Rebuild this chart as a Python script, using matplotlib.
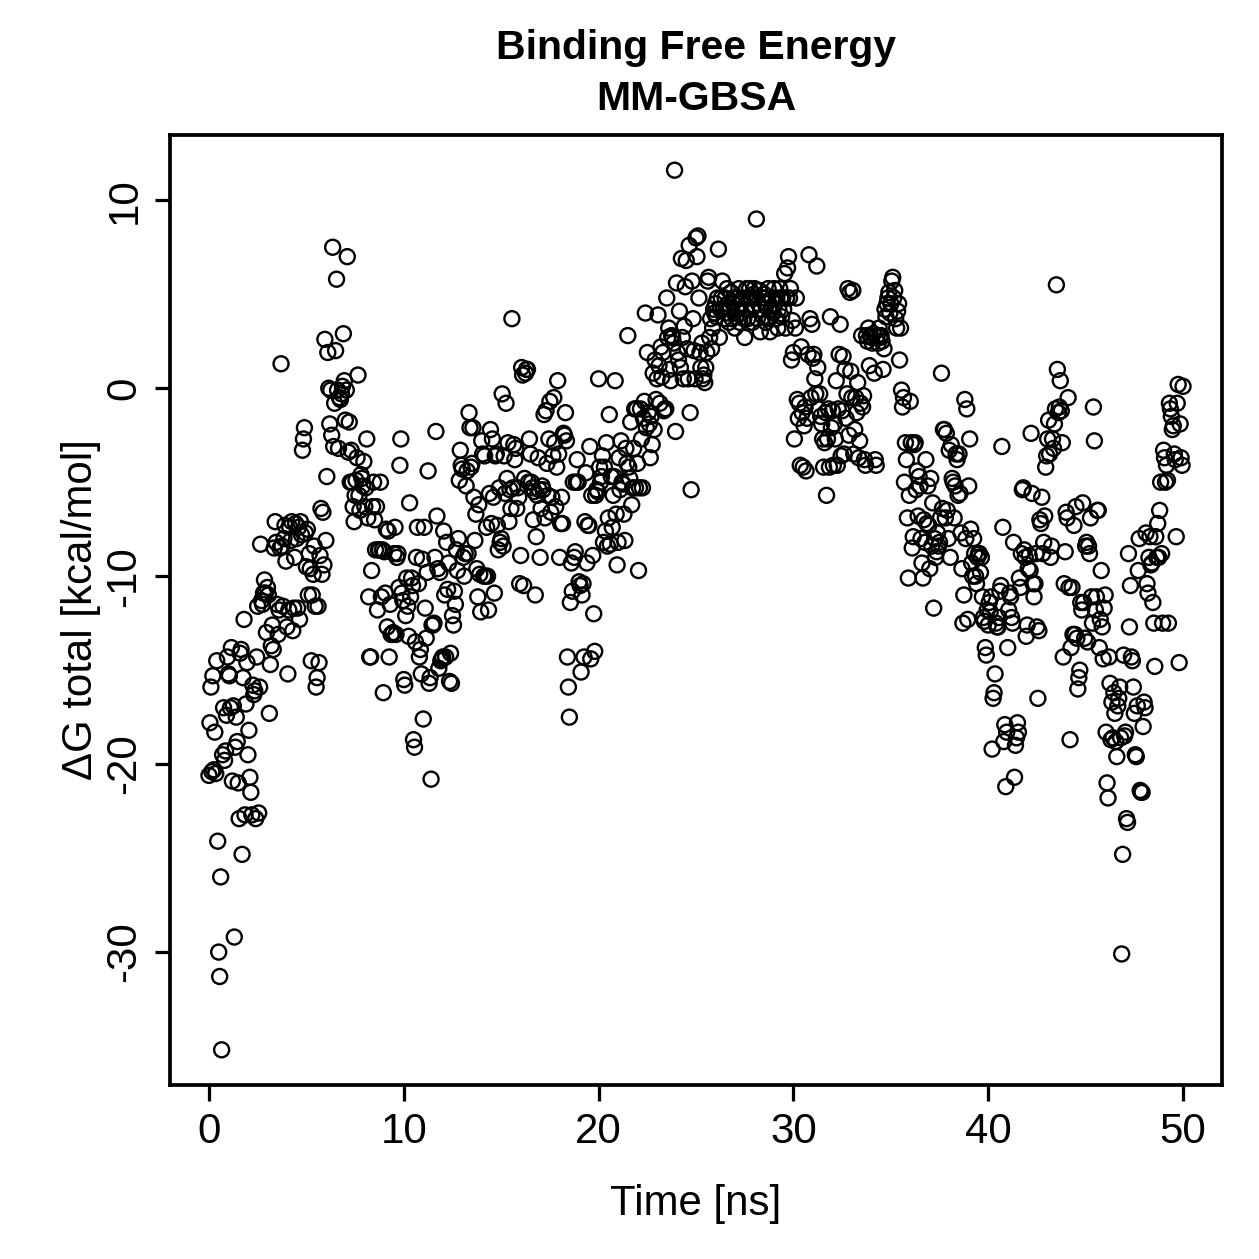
import numpy as np
import matplotlib
matplotlib.use("Agg")
import matplotlib.pyplot as plt

title_text = "Binding Free Energy\nMM-GBSA"
x_label = "Time [ns]"
y_label = "\u0394G total [kcal/mol]"
x_ticks = [0, 10, 20, 30, 40, 50]
y_ticks = [-30, -20, -10, 0, 10]
frame_step_ns = 0.05

# dG total per frame (kcal/mol), frames every 0.05 ns
dG = [
    -20.6, -17.8, -15.9, -20.4, -15.3, -20.3, -18.3, -20.5, -14.5, -24.1,
    -30.0, -31.3, -26.0, -35.2, -19.5, -17.0, -19.8, -19.3, -17.4, -14.3,
    -15.2, -15.3, -17.0, -13.8, -20.9, -16.9, -29.2, -19.1, -17.5, -18.8,
    -21.0, -22.9, -14.1, -13.9, -24.8, -15.4, -12.3, -22.7, -16.8, -14.6,
    -19.5, -18.2, -20.7, -21.5, -22.7, -15.8, -16.3, -16.1, -22.9, -14.3,
    -11.6, -22.6, -15.9, -8.3, -11.3, -11.5, -10.9, -10.2, -10.9, -13.0,
    -10.6, -11.0, -17.3, -14.7, -13.7, -12.6, -13.9, -8.5, -7.1, -8.2,
    -11.5, -13.1, -11.8, -8.5, 1.3, -8.4, -11.6, -8.0, -7.3, -9.2,
    -12.7, -15.2, -11.8, -7.4, -8.1, -7.1, -12.9, -11.7, -9.0, -7.2,
    -8.0, -11.7, -7.4, -12.3, -7.1, -7.8, -3.3, -2.7, -2.1, -7.7,
    -9.5, -7.5, -11.0, -8.8,
    -9.6, -14.5, -11.0, -9.9, -8.4, -11.6, -15.9, -15.4, -11.6, -14.6,
    -8.9, -6.4, -9.9, -6.6, -9.4, 2.6, -8.1, -4.7, 1.9, 0.0,
    -1.9, -0.1, -2.5, 7.5, -3.1, -0.8, 2.0, 5.8, -0.1, -3.2,
    -0.5, -0.6, -0.3, 0.1, 2.9, 0.4, -1.7, -0.1, 7.0, -3.4,
    -1.8, -5.0, -3.3, -5.0, -6.3, -7.1, -5.7, -4.9, -3.7, 0.7,
    -5.7, -6.5, -4.6, -4.8, -5.2, -3.9, -6.3, -5.3, -2.7, -6.9,
    -11.1, -14.3, -14.3, -9.7, -6.3, -5.0, -7.0, -8.6, -6.3, -11.8,
    -8.6, -8.6, -5.0, -11.1, -8.6, -16.2, -8.7, -10.9, -7.5, -12.7,
    -7.6, -14.3, -11.5, -13.1, -13.1, -13.0, -8.8, -7.4, -13.1, -9.0,
    -8.8, -10.6, -4.1, -2.7, -10.9, -11.3, -15.5, -15.8, -12.1, -10.1,
    -11.6, -13.2, -6.1, -11.1, -10.1, -10.5, -18.7, -19.1, -13.5, -9.0,
    -7.4, -10.4, -14.3, -13.9, -15.2, -9.1, -17.6, -7.4, -11.7, -13.3,
    -9.8, -4.4, -15.7, -15.4, -20.8, -12.6, -12.6, -12.5, -9.0, -2.3,
    -6.8, -9.6, -14.9, -9.8, -14.5, -14.4, -14.3, -7.6, -11.0, -14.3,
    -8.2, -10.7, -9.3, -15.6, -14.1, -15.7, -12.1, -12.6, -10.8, -11.5,
    -8.6, -9.7, -8.0, -4.9, -3.3, -4.1, -4.3, -9.0, -10.0, -8.8,
    -5.2, -4.4, -8.8, -1.3, -2.1, -4.2, -4.0, -2.1, -5.8, -8.1,
    -6.7, -9.6, -11.1, -6.2, -9.9, -11.9, -2.8, -3.5, -10.0, -3.6,
    -10.0, -7.4, -10.0, -11.8, -5.6, -2.2, -7.2, -2.7, -5.8, -10.9,
    -3.6, -3.5, -7.3, -8.6, -5.3, -8.2, -8.0, -0.3, -8.4, -3.6,
    -5.6, -0.8, -4.8, -2.9, -7.1, -5.4, -6.4, 3.7, -5.3, -3.0,
    -3.8, -3.2, -6.4, -5.3, -5.8, -10.4, -8.9, 1.1, 0.7, -10.5,
    -4.8, 0.8, 1.0, 1.0, -5.0, -2.7, -3.5, -5.0, -5.3, -7.0,
    -5.5, -11.0, -7.9, -5.7, -3.7, -5.4, -9.0, -6.4, -5.2, -5.4,
    -1.4, -6.9, -1.2, -4.0, -5.7, -2.7, -0.7, -6.6, -5.8, -3.6,
    -0.5, -2.9, -6.3, -4.2, 0.4, -3.5, -9.0, -7.2, -5.8, -7.2,
    -2.4, -2.5, -1.3, -2.8, -14.3, -15.9, -17.5, -11.4, -9.3, -10.8,
    -5.0, -9.0, -8.7, -5.0, -3.8, -5.0, -10.3, -10.5, -15.1, -11.0,
    -10.4, -14.3, -7.1, -4.5, -9.3, -7.3, -7.3, -3.1, -14.4, -5.7,
    -8.9, -12.0, -14.0, -5.7, -5.4, -5.5, 0.5, -4.2, -5.0, -4.7,
    -3.6, -8.2, -4.2, -7.6, -2.9, -8.4, -6.9, -1.4, -8.3, -4.7,
    -7.4, -5.7, -4.7, 0.4, -6.7, -9.4, -8.2, -3.7, -5.4, -2.8,
    -5.0, -5.1, -6.7, -8.1, -3.2, -4.0, 2.8, -4.2, -4.8, -1.8,
    -6.2, -5.3, -3.2, -1.1, -5.3, -1.1, -4.0, -9.7, -5.3, -1.1,
    -2.7, -5.3, -1.6, -0.7, 4.0, -2.1, 1.9, -1.3, -1.9, -3.7,
    -1.5, -3.0, 0.8, -2.2, 1.5, -0.6,
    0.5, 3.9, 1.2, -0.8, 2.2, 0.6, 1.9, -1.2, -1.1, -1.1,
    4.8, 2.7, 3.2, 1.0, 0.4, 2.8, 2.7, 2.4, 11.6, -2.3,
    5.6, 1.9, 1.5, 4.1, 1.1, 6.9, 2.7, 0.5, 3.3, 5.4,
    6.8, 2.1, 0.5, 7.6, -1.3, -5.4, 5.7, 3.7, 2.0, 0.5,
    8.0, 7.0, 8.1, 4.8, 1.9, 1.1, 2.4, 0.5, 0.7, 0.3,
    1.1, 1.9, 5.7, 5.9, 2.7, 3.7, 2.1, 3.2, 4.2, 4.0,
    4.5, 3.8, 4.8, 7.4, 2.7, 4.2, 4.8, 5.7, 4.2, 3.7,
    4.8, 4.0, 5.3, 4.5, 3.5, 4.2, 5.1, 3.7, 4.5, 4.8,
    3.2, 3.8, 4.8, 4.2, 5.3, 3.5, 4.5, 4.0, 4.8, 3.7,
    2.7, 4.2, 5.3, 3.7, 4.8, 5.3, 4.8, 4.2, 3.5, 5.0,
    5.3, 4.8, 9.0, 3.7, 4.5, 5.2, 3.0, 4.2, 4.8, 3.8,
    5.0, 4.8, 3.5, 4.5, 5.3, 3.7, 3.0, 4.2, 4.8, 4.0,
    5.3, 4.5, 3.7, 4.8, 3.2, 4.2, 5.3, 4.8, 3.8, 4.8,
    4.2, 6.1, 3.2, 4.8, 6.4, 7.0, 4.8, 5.3, 1.5, 3.6,
    1.9, -2.7, 3.2, 4.8, -0.6, -1.6, -0.8, -4.1, 2.2, -1.3,
    -4.2, -2.0, -1.0, -4.4, -1.6, 1.8, 7.1, 3.7, -0.5, 3.4,
    1.6, 1.8, 0.5, -0.3, 6.5, 1.1, -1.1, -0.3, -1.5, -1.9,
    -2.7, -4.2, -2.9, -1.3, -5.7, -2.7, -1.1, -4.2, 3.8, -2.1,
    -1.2, -4.1, -1.9, -2.7, 0.4, -4.1, -1.1, 1.8, 3.4, -3.6,
    -1.2, 1.7, -3.5, 1.0, -1.6, -0.3, 5.3, -2.5, 5.1, 0.9,
    -0.5, 5.2, -3.5, -2.2,
    -0.5, -1.3, 0.3, -3.7, -2.8, -0.8, 2.8, -1.0, -0.4, -3.8,
    -4.1, 2.8, 2.5, 3.2, 1.2, 2.8, 2.7, 2.4, 2.9, 0.8,
    -3.8, -4.1, 2.8, 2.4, 3.2, 2.7, 2.8, 2.5, 1.0, 2.1,
    4.2, 3.8, 4.5, 4.8, 5.1, 4.0, 4.5, 5.7, 5.9, 4.8,
    5.2, 3.7, 3.2, 4.1, 4.5, 1.5, 3.2, -0.1, -1.0, -0.5,
    -5.0, -2.9, -3.8, -6.9, -10.1, -5.7, -0.7, -2.9, -8.5, -7.9,
    -3.0, -2.9, -5.4, -4.4, -6.8, -4.7, -5.2, -8.0, -9.3, -10.1,
    -7.0, -8.2, -3.8, -7.2, -5.2, -7.3, -9.6, -4.8, -8.4, -6.1,
    -11.7, -8.0, -9.0, -8.7, -7.7, -8.4, -8.2, -6.9, 0.8, -6.4,
    -2.2, -2.2, -6.9, -2.4, -6.5, -8.0, -3.3, -9.0, -3.0, -4.8,
    -5.0, -6.9, -5.2, -3.5, -3.8, -5.7, -3.5, -5.6, -7.7, -9.6,
    -12.5, -11.0, -0.6, -8.0, -1.1, -12.3, -5.2, -2.7, -7.5, -9.3,
    -10.0, -8.0, -8.8, -10.0, -10.4, -9.0, -8.8, -8.8, -9.8, -9.0,
    -11.1, -12.2, -12.4, -13.8, -14.2, -11.8, -12.6, -11.4, -11.9, -11.1,
    -19.2, -16.5, -16.2, -15.2, -12.5, -12.7, -12.7, -12.2, -10.8, -10.5,
    -3.1, -7.4, -18.8, -17.9, -21.2, -18.3, -13.8, -11.8, -10.9, -11.1,
    -12.2, -12.5, -8.2, -20.7, -19.0, -18.6, -17.8, -18.3, -10.1, -10.6,
    -8.8, -5.4, -5.3, -8.6, -9.0, -13.2, -12.6, -9.6, -8.9, -9.7,
    -2.4, -5.6, -10.4, -11.1, -10.4, -8.8, -12.7, -16.5, -12.9, -7.0,
    -7.2, -5.8, -8.8, -8.2, -6.8, -4.2, -3.6, -2.7, -1.7, -3.5,
    -9.0, -8.4, -2.7, -3.2, -1.9, -1.1, 5.5, 1.0, -1.3, -1.0,
    0.4, -1.2, -2.9, -14.3, -10.4, -8.7, -6.6, -6.9, -0.5, -10.6,
    -18.7, -13.8, -10.6, -13.1, -7.3, -13.1, -6.3, -13.3, -16.0, -15.4,
    -15.0, -11.4, -11.8, -6.1, -11.4, -13.3, -8.4, -8.2, -13.5, -8.4,
    -8.8, -6.9, -11.1, -12.5, -1.0, -2.8, -11.8, -11.1, -6.5, -6.5,
    -13.8, -12.3, -9.7, -12.7, -14.4, -11.7, -11.0, -18.3, -21.0, -21.8,
    -14.3, -15.7, -18.7, -16.7, -18.6, -16.2, -17.3, -18.8, -19.6, -16.9,
    -16.5, -15.9, -18.6, -30.1, -24.8, -14.2, -18.5, -18.3, -22.9, -23.1,
    -8.8, -12.7, -10.5, -14.3, -14.5, -15.9, -17.3, -19.5, -19.6, -16.9,
    -9.7, -8.0, -21.4, -21.5, -21.5, -18.0, -16.7, -17.0, -7.7, -10.4,
    -10.9, -9.0, -7.9, -9.4, -9.3, -11.4, -12.5, -14.8, -7.9, -9.0,
    -7.2, -9.0, -6.5, -5.0, -8.8, -12.5, -3.3, -3.7, -5.0, -4.1,
    -4.9, -12.5, -0.8, -1.1, -1.5, -2.2, -2.0, -3.5, -3.8, -7.9,
    -0.8, 0.2, -14.6, -1.9, -3.7, -4.1, 0.1,
]

time_ns = np.arange(len(dG)) * frame_step_ns

W, H, DPI = 1259, 1259, 180
fig = plt.figure(figsize=(W / DPI, H / DPI), dpi=DPI)
plt.rcParams['font.family'] = ['Liberation Sans', 'DejaVu Sans']

ax = fig.add_axes([170 / W, 1 - 1085 / H, (1222 - 170) / W, (1085 - 135) / H])
ax.scatter(time_ns, dG, s=36, facecolors='none', edgecolors='black', linewidths=0.95)

xmin, xmax = min(time_ns), max(time_ns)
ymin, ymax = min(dG), max(dG)
ax.set_xlim(xmin - 0.04 * (xmax - xmin), xmax + 0.04 * (xmax - xmin))
ax.set_ylim(ymin - 0.04 * (ymax - ymin), ymax + 0.04 * (ymax - ymin))

FS = 16.8
ax.set_xticks(x_ticks)
ax.set_yticks(y_ticks)
ax.set_xticklabels([str(v) for v in x_ticks])
ax.set_yticklabels([str(v) for v in y_ticks], rotation=90, va='center')
ax.tick_params(axis='both', direction='out', length=6.2, width=1.3, labelsize=FS, colors='black')
ax.tick_params(axis='x', pad=4.5)
ax.tick_params(axis='y', pad=4.0)
for s in ax.spines.values():
    s.set_linewidth(1.5)
    s.set_color('black')

ax.set_xlabel(x_label, fontsize=FS, labelpad=13)
ax.set_ylabel(y_label, fontsize=FS, labelpad=1.5)
ax.set_title(title_text, fontsize=16.4, fontweight='bold', pad=10, linespacing=1.42)

fig.savefig("out.png", dpi=DPI)
